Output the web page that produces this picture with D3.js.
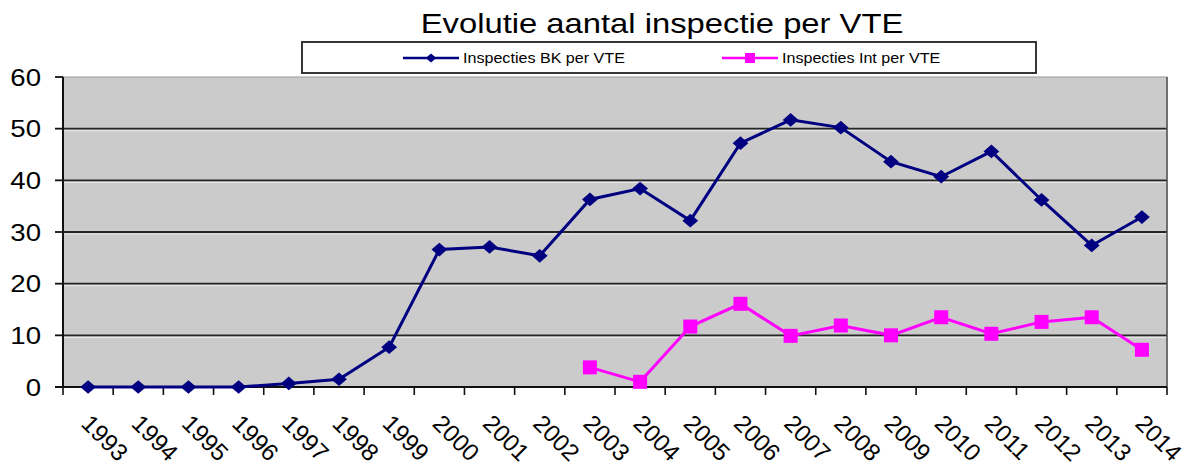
<!DOCTYPE html>
<html>
<head>
<meta charset="utf-8">
<script src="https://cdn.jsdelivr.net/npm/d3@7"></script>
<style>
  body { margin: 0; background: #fff; }
  text { font-family: "Liberation Sans", Arial, sans-serif; fill: #000; }
</style>
</head>
<body>
<svg id="chart" width="1186" height="467"></svg>
<script>
// chart data
var years = [1993, 1994, 1995, 1996, 1997, 1998, 1999, 2000, 2001, 2002, 2003,
             2004, 2005, 2006, 2007, 2008, 2009, 2010, 2011, 2012, 2013, 2014];
var bkValues = [0, 0, 0, 0, 0.7, 1.5, 7.7, 26.6, 27.1, 25.4, 36.3,
                38.4, 32.2, 47.2, 51.7, 50.2, 43.6, 40.7, 45.6, 36.2, 27.4, 32.9];
var intValues = [null, null, null, null, null, null, null, null, null, null, 3.8,
                 1.0, 11.7, 16.1, 9.9, 11.9, 10.0, 13.5, 10.3, 12.6, 13.5, 7.2];
var yTicks = [0, 10, 20, 30, 40, 50, 60];
var seriesNames = ["Inspecties BK per VTE", "Inspecties Int per VTE"];
var titleText = "Evolutie aantal inspectie per VTE";

var svg = d3.select("#chart"),
    width = +svg.attr("width"),
    height = +svg.attr("height");

// the original picture is stretched a bit in width
var stretch = 1.15;
var plotL = 63, plotR = 1167, plotT = 77, plotB = 387;

var x = d3.scaleBand().domain(years).range([plotL, plotR]);
var y = d3.scaleLinear().domain([0, 60]).range([plotB, plotT]);
var cx = function(d) { return x(d) + x.bandwidth() / 2; };

svg.append("rect").attr("width", width).attr("height", height).attr("fill", "#fff");

// plot area
svg.append("rect")
  .attr("x", plotL).attr("y", plotT)
  .attr("width", plotR - plotL).attr("height", plotB - plotT)
  .attr("fill", "#cbcbcb")
  .attr("stroke", "#9a9a9a")
  .attr("stroke-width", 1);

// gridlines (dark line with a light edge under it)
var grid = svg.append("g");
grid.selectAll(".hl")
  .data(yTicks.slice(1, -1))
  .enter().append("line")
  .attr("x1", plotL).attr("x2", plotR)
  .attr("y1", function(d) { return y(d) + 2; })
  .attr("y2", function(d) { return y(d) + 2; })
  .attr("stroke", "#e6e6e6").attr("stroke-width", 1.2);
grid.selectAll(".gl")
  .data(yTicks.slice(1, -1))
  .enter().append("line")
  .attr("x1", plotL).attr("x2", plotR)
  .attr("y1", function(d) { return y(d); })
  .attr("y2", function(d) { return y(d); })
  .attr("stroke", "#262626").attr("stroke-width", 1.8);

// right border
svg.append("line")
  .attr("x1", plotR).attr("x2", plotR).attr("y1", plotT).attr("y2", plotB)
  .attr("stroke", "#555").attr("stroke-width", 1.5);

// y axis
svg.append("line")
  .attr("x1", plotL).attr("x2", plotL).attr("y1", plotT).attr("y2", plotB)
  .attr("stroke", "#111").attr("stroke-width", 2);
svg.selectAll(".ytick")
  .data(yTicks)
  .enter().append("line")
  .attr("x1", plotL - 8).attr("x2", plotL)
  .attr("y1", function(d) { return y(d); })
  .attr("y2", function(d) { return y(d); })
  .attr("stroke", "#111").attr("stroke-width", 1.8);
svg.selectAll(".ylab")
  .data(yTicks)
  .enter().append("g")
  .attr("transform", function(d) { return "translate(41," + (y(d) + 8.5) + ") scale(" + stretch + ",1)"; })
  .append("text")
  .attr("text-anchor", "end")
  .attr("font-size", 24)
  .attr("fill", "#222")
  .text(function(d) { return d; });

// x axis
svg.append("line")
  .attr("x1", plotL - 8).attr("x2", plotR).attr("y1", plotB).attr("y2", plotB)
  .attr("stroke", "#111").attr("stroke-width", 2);
svg.selectAll(".xtick")
  .data(d3.range(years.length + 1))
  .enter().append("line")
  .attr("x1", function(i) { return plotL + i * x.step(); })
  .attr("x2", function(i) { return plotL + i * x.step(); })
  .attr("y1", plotB).attr("y2", plotB + 8)
  .attr("stroke", "#111").attr("stroke-width", 1.6);
svg.selectAll(".xlab")
  .data(years)
  .enter().append("text")
  .attr("transform", function(d) { return "translate(" + (cx(d) - 8) + ",425) rotate(45)"; })
  .attr("font-size", 24)
  .attr("fill", "#222")
  .text(function(d) { return d; });

// series
var bk = years.map(function(d, i) { return {year: d, v: bkValues[i]}; });
var ints = years.map(function(d, i) { return {year: d, v: intValues[i]}; })
  .filter(function(d) { return d.v !== null; });

var line = d3.line()
  .x(function(d) { return cx(d.year); })
  .y(function(d) { return y(d.v); });

svg.append("path").datum(bk)
  .attr("d", line).attr("fill", "none")
  .attr("stroke", "#000080").attr("stroke-width", 3);
svg.append("path").datum(ints)
  .attr("d", line).attr("fill", "none")
  .attr("stroke", "#ff00ff").attr("stroke-width", 3);

var diamond = d3.symbol().type(d3.symbolDiamond2).size(120);
svg.selectAll(".bk")
  .data(bk)
  .enter().append("path")
  .attr("d", diamond)
  .attr("transform", function(d) { return "translate(" + cx(d.year) + "," + y(d.v) + ") scale(1.15,1)"; })
  .attr("fill", "#000080");
svg.selectAll(".int")
  .data(ints)
  .enter().append("rect")
  .attr("x", function(d) { return cx(d.year) - 7; })
  .attr("y", function(d) { return y(d.v) - 7; })
  .attr("width", 14).attr("height", 14)
  .attr("fill", "#ff00ff");

// title
svg.append("g")
  .attr("transform", "translate(662,33) scale(" + stretch + ",1)")
  .append("text")
  .attr("text-anchor", "middle")
  .attr("font-size", 28.5)
  .text(titleText);

// legend
svg.append("rect")
  .attr("x", 302).attr("y", 42).attr("width", 734).attr("height", 31)
  .attr("fill", "#fff").attr("stroke", "#222").attr("stroke-width", 1.8);

var legend = [
  {name: seriesNames[0], color: "#000080", x: 403},
  {name: seriesNames[1], color: "#ff00ff", x: 722}
];
var lg = svg.selectAll(".lg")
  .data(legend)
  .enter().append("g")
  .attr("transform", function(d) { return "translate(" + d.x + ",58)"; });
lg.append("line")
  .attr("x1", 0).attr("x2", 56)
  .attr("stroke", function(d) { return d.color; })
  .attr("stroke-width", 2.5);
lg.filter(function(d, i) { return i === 0; }).append("path")
  .attr("d", d3.symbol().type(d3.symbolDiamond2).size(50))
  .attr("transform", "translate(28,0) scale(1.2,1)")
  .attr("fill", "#000080");
lg.filter(function(d, i) { return i === 1; }).append("rect")
  .attr("x", 23).attr("y", -5).attr("width", 10).attr("height", 10)
  .attr("fill", "#ff00ff");
lg.append("g")
  .attr("transform", "translate(60,5) scale(" + stretch + ",1)")
  .append("text")
  .attr("font-size", 14)
  .text(function(d) { return d.name; });
</script>
</body>
</html>
